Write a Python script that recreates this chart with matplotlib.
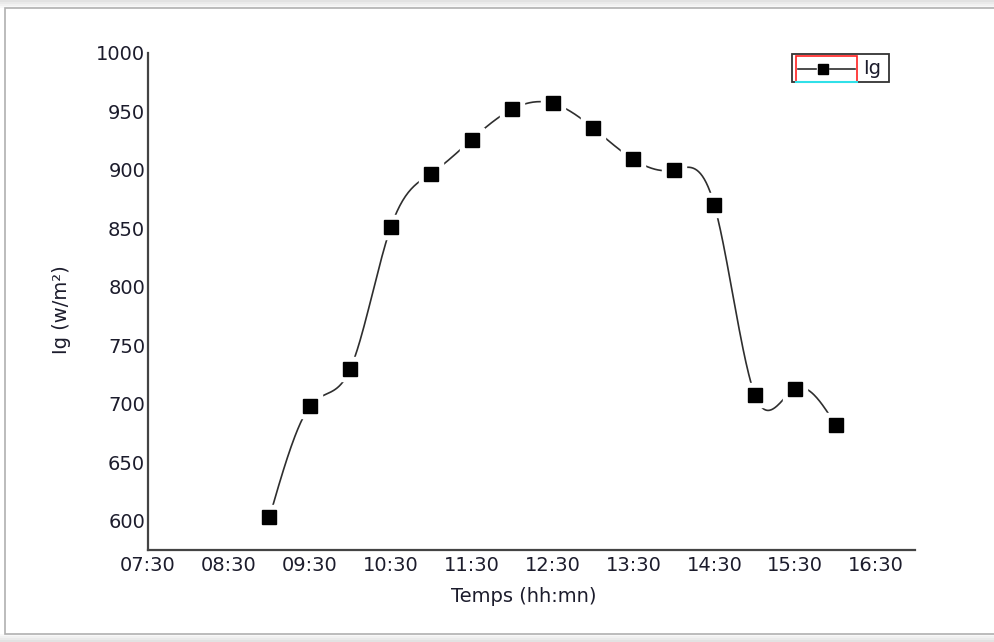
import numpy as np
import matplotlib
matplotlib.use("Agg")
import matplotlib.pyplot as plt
from matplotlib.patches import Rectangle
from matplotlib.lines import Line2D

# Irradiance measurements through the day
times = ["09:00", "09:30", "10:00", "10:30", "11:00", "11:30", "12:00", "12:30",
         "13:00", "13:30", "14:00", "14:30", "15:00", "15:30", "16:00"]
ig_values = [603, 698, 730, 851, 897, 926, 952, 957,
             936, 909, 900, 870, 708, 713, 682]
x_tick_labels = ["07:30", "08:30", "09:30", "10:30", "11:30",
                 "12:30", "13:30", "14:30", "15:30", "16:30"]
y_ticks = [600, 650, 700, 750, 800, 850, 900, 950, 1000]


def to_hours(s):
    h, m = s.split(":")
    return int(h) + int(m) / 60.0


def natural_cubic_spline(x, y, xs):
    x = np.asarray(x, float)
    y = np.asarray(y, float)
    n = len(x)
    h = np.diff(x)
    A = np.zeros((n, n))
    b = np.zeros(n)
    A[0, 0] = 1
    A[-1, -1] = 1
    for i in range(1, n - 1):
        A[i, i - 1] = h[i - 1]
        A[i, i] = 2 * (h[i - 1] + h[i])
        A[i, i + 1] = h[i]
        b[i] = 3 * ((y[i + 1] - y[i]) / h[i] - (y[i] - y[i - 1]) / h[i - 1])
    c = np.linalg.solve(A, b)
    bb = (y[1:] - y[:-1]) / h - h * (2 * c[:-1] + c[1:]) / 3
    d = (c[1:] - c[:-1]) / (3 * h)
    idx = np.clip(np.searchsorted(x, xs) - 1, 0, n - 2)
    dx = xs - x[idx]
    return y[idx] + bb[idx] * dx + c[idx] * dx ** 2 + d[idx] * dx ** 3


x = np.array([to_hours(t) for t in times])
y = np.array(ig_values, float)
xs = np.linspace(x[0], x[-1], 600)
ys = natural_cubic_spline(x, y, xs)

plt.rcParams["font.family"] = ["DejaVu Sans"]
text_color = "#1c1c2c"
fs = 14

fig = plt.figure(figsize=(9.95, 6.42), dpi=100)
fig.patch.set_facecolor("white")

# page frame with soft shadow
W, H = 995.0, 642.0
for k, a in enumerate([0.05, 0.05, 0.06, 0.07]):
    fig.patches.append(Rectangle((0, 0), 1, (8 - 2 * k) / H, transform=fig.transFigure,
                                 facecolor="#808080", alpha=a, edgecolor="none", zorder=0))
    fig.patches.append(Rectangle((0, 1 - (8 - 2 * k) / H), 1, (8 - 2 * k) / H,
                                 transform=fig.transFigure, facecolor="#808080", alpha=a,
                                 edgecolor="none", zorder=0))
fig.patches.append(Rectangle((5 / W, 8 / H), 1.2, (634 - 8) / H, transform=fig.transFigure,
                             facecolor="white", edgecolor="#b0b0b0", linewidth=1.2, zorder=1))

ax = fig.add_axes([148 / W, (H - 550) / H, (915 - 148) / W, (550 - 53) / H])
ax.set_facecolor("none")
ax.set_zorder(2)

ax.plot(xs, ys, color="#2e2e2e", linewidth=1.2, zorder=2)
# white halos leave small gaps between curve and markers
ax.plot(x, y, linestyle="none", marker="s", markersize=17.5, color="white",
        markeredgecolor="white", zorder=3)
ax.plot(x, y, linestyle="none", marker="s", markersize=10, color="black",
        markeredgecolor="black", zorder=4)

ax.set_xlim(7.5, 16.98)
ax.set_ylim(575.2, 1000)
ax.set_xticks([to_hours(t) for t in x_tick_labels])
ax.set_xticklabels(x_tick_labels)
ax.set_yticks(y_ticks)
ax.set_yticklabels([str(v) for v in y_ticks])
ax.tick_params(axis="both", length=0, labelsize=fs, colors=text_color)
ax.tick_params(axis="x", pad=4)
ax.tick_params(axis="y", pad=2)

for side in ("top", "right"):
    ax.spines[side].set_visible(False)
for side in ("left", "bottom"):
    ax.spines[side].set_color("#444444")
    ax.spines[side].set_linewidth(1.6)

fig.text(524 / W, 1 - 597 / H, "Temps (hh:mn)", ha="center", va="center",
         fontsize=fs, color=text_color)
fig.text(62 / W, 1 - 310 / H, "Ig (w/m\u00b2)", ha="center", va="center",
         rotation=90, fontsize=fs, color=text_color)


# legend box
def fx(px):
    return px / W


def fy(py):
    return 1 - py / H


fig.patches.append(Rectangle((fx(792), fy(82)), (889 - 792) / W, (82 - 54) / H,
                             transform=fig.transFigure, facecolor="white",
                             edgecolor="#333333", linewidth=1.3, zorder=5))
fig.patches.append(Rectangle((fx(796), fy(82)), (857 - 796) / W, (82 - 56) / H,
                             transform=fig.transFigure, facecolor="none",
                             edgecolor="#ff2020", linewidth=1.2, zorder=6))
fig.lines.append(Line2D([fx(796), fx(857)], [fy(82), fy(82)], transform=fig.transFigure,
                        color="#30e0e8", linewidth=1.5, zorder=7))
fig.lines.append(Line2D([fx(798), fx(816)], [fy(69), fy(69)], transform=fig.transFigure,
                        color="#2e2e2e", linewidth=1.2, zorder=7))
fig.lines.append(Line2D([fx(830), fx(855)], [fy(69), fy(69)], transform=fig.transFigure,
                        color="#2e2e2e", linewidth=1.2, zorder=7))
fig.lines.append(Line2D([fx(823)], [fy(69)], transform=fig.transFigure, marker="s",
                        markersize=6.5, color="black", linestyle="none", zorder=8))
fig.text(fx(863), fy(69), "Ig", ha="left", va="center", fontsize=fs,
         color=text_color, zorder=8)

fig.savefig("out.png", dpi=100, facecolor=fig.get_facecolor())
